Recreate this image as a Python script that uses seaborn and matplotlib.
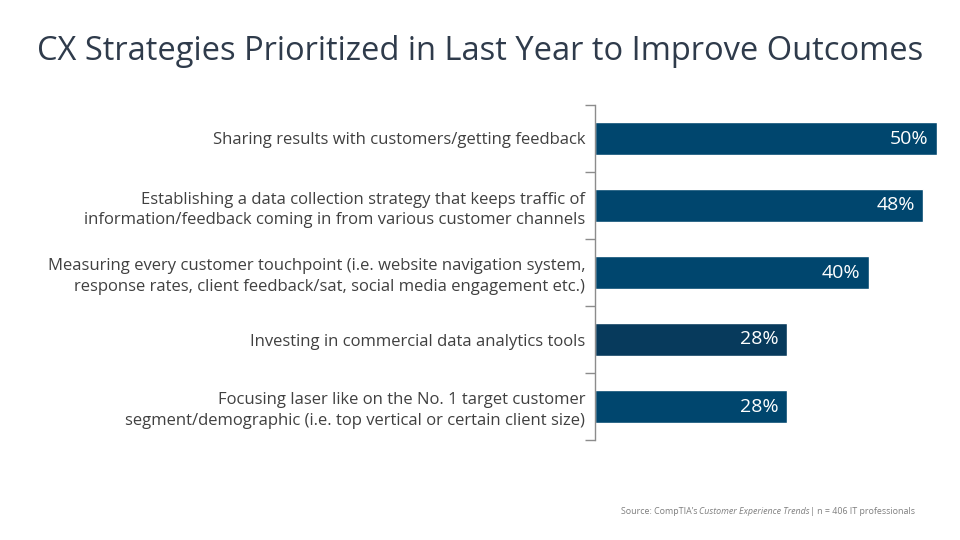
import matplotlib
matplotlib.use("Agg")
import matplotlib.pyplot as plt
import seaborn as sns
import pandas as pd

categories = [
    "Sharing results with customers/getting feedback",
    "Establishing a data collection strategy that keeps traffic of\ninformation/feedback coming in from various customer channels",
    "Measuring every customer touchpoint (i.e. website navigation system,\nresponse rates, client feedback/sat, social media engagement etc.)",
    "Investing in commercial data analytics tools",
    "Focusing laser like on the No. 1 target customer\nsegment/demographic (i.e. top vertical or certain client size)",
]
values = [50, 48, 40, 28, 28]
bar_colors = ["#00466E", "#00466E", "#00466E", "#073A5C", "#00466E"]

df = pd.DataFrame({"strategy": categories, "pct": values})

sns.set_style("white")
plt.rcParams["font.family"] = ["Open Sans", "DejaVu Sans"]

fig = plt.figure(figsize=(9.6, 5.4), dpi=100)
ax = fig.add_axes([595 / 960, 1 - 440 / 540, (937 - 595) / 960, (440 - 105) / 540])

sns.barplot(data=df, x="pct", y="strategy", hue="strategy", palette=bar_colors,
            legend=False, width=0.5, saturation=1, ax=ax)

ax.set_xlim(0, 50)
ax.set_ylim(4.5, -0.5)
ax.set_xlabel("")
ax.set_ylabel("")
ax.set_xticks([])
# tick marks between categories, labels at the bar centres
ax.set_yticks([i - 0.5 for i in range(len(categories) + 1)], minor=False)
ax.set_yticklabels([])
ax.set_yticks(range(len(categories)), minor=True)
ax.set_yticklabels(categories, minor=True, fontsize=12, color="#404040",
                   ha="right", linespacing=1.4)
ax.tick_params(axis="y", which="major", length=7, width=1, color="#8C8C8C", left=True)
ax.tick_params(axis="y", which="minor", length=0, pad=7)

for side in ["top", "right", "bottom"]:
    ax.spines[side].set_visible(False)
ax.spines["left"].set_color("#8C8C8C")
ax.spines["left"].set_linewidth(1)

for i, v in enumerate(values):
    ax.text(v - 1.2, i, f"{v}%", ha="right", va="center", color="white", fontsize=14)

fig.text(0.5, 1 - 51 / 540, "CX Strategies Prioritized in Last Year to Improve Outcomes",
         ha="center", va="center", fontsize=23.5, color="#2F3B4B")

# source line built right-to-left with an italic part
fig.canvas.draw()
renderer = fig.canvas.get_renderer()
x_right = 915 / 960
y_src = 1 - 512 / 540
pieces = [("| n = 406 IT professionals", "normal"),
          ("Customer Experience Trends", "italic"),
          ("Source: CompTIA\u2019s ", "normal")]
for txt, style in pieces:
    t = fig.text(x_right, y_src, txt, ha="right", va="center", fontsize=6.4,
                 color="#7F7F7F", style=style)
    bb = t.get_window_extent(renderer)
    x_right -= bb.width / fig.bbox.width

fig.savefig("out.png", dpi=100)
